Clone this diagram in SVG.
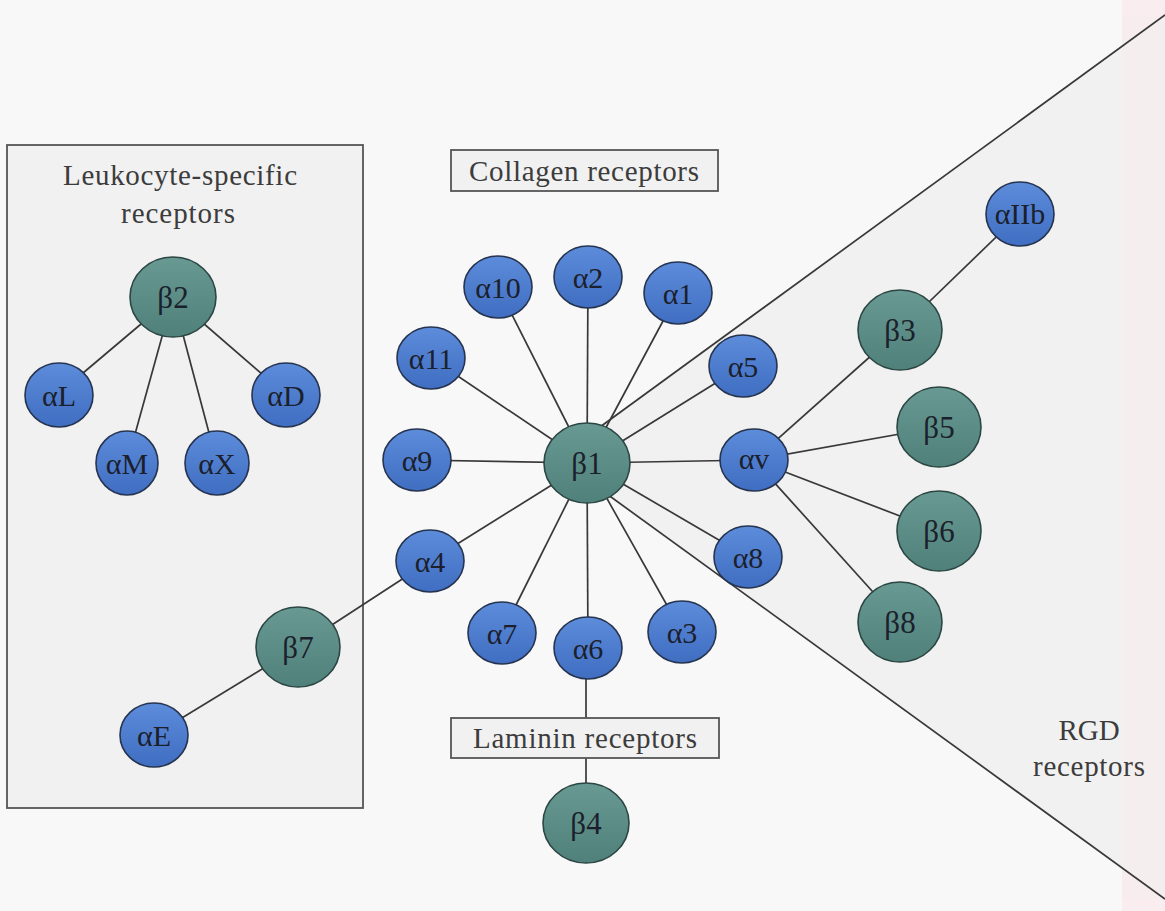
<svg xmlns="http://www.w3.org/2000/svg" width="1165" height="911" viewBox="0 0 1165 911">
<defs>
<linearGradient id="gBlue" x1="0" y1="0" x2="0" y2="1">
<stop offset="0" stop-color="#5d8cdb"/>
<stop offset="1" stop-color="#3f6ec2"/>
</linearGradient>
<linearGradient id="gGreen" x1="0" y1="0" x2="0" y2="1">
<stop offset="0" stop-color="#689a93"/>
<stop offset="1" stop-color="#4f817a"/>
</linearGradient>
<style>
.a{fill:url(#gBlue);stroke:#26344f;stroke-width:1.6}
.b{fill:url(#gGreen);stroke:#2c4643;stroke-width:1.6}
.t{font-family:"Liberation Serif","Times New Roman",serif;font-size:30px;fill:#1c1f2c;text-anchor:middle}
.bt{font-size:31px}
.lbl{font-family:"Liberation Serif","Times New Roman",serif;font-size:29px;fill:#3c3c3c;text-anchor:middle}
.box{fill:#f1f1f1;stroke:#555;stroke-width:1.8}
.e{stroke:#383838;stroke-width:1.7;fill:none}
</style>
</defs>
<rect x="0" y="0" width="1165" height="911" fill="#f8f8f8"/>
<rect x="1122" y="0" width="43" height="911" fill="#f9edf0"/>
<polygon points="600,427 1165,15 1165,899 600,489" fill="#f1f1f1"/>
<rect x="1122" y="15" width="43" height="884" fill="#f6ecee" opacity="0.7"/>

<g id="leukocyte-box">
<rect class="box" x="7" y="145" width="356" height="663"/>
<text class="lbl" x="180" y="185" textLength="234" lengthAdjust="spacing">Leukocyte-specific</text>
<text class="lbl" x="178" y="223" textLength="114" lengthAdjust="spacing">receptors</text>
</g>

<g id="connectors">
<line class="e" x1="600" y1="427" x2="1165" y2="15"/>
<line class="e" x1="600" y1="489" x2="1165" y2="899"/>
<line class="e" x1="173" y1="297" x2="57" y2="395"/>
<line class="e" x1="173" y1="297" x2="127" y2="463"/>
<line class="e" x1="173" y1="297" x2="217" y2="463"/>
<line class="e" x1="173" y1="297" x2="286" y2="395"/>
<line class="e" x1="298" y1="647" x2="154" y2="735"/>
<line class="e" x1="298" y1="647" x2="430" y2="561"/>
<line class="e" x1="587" y1="463" x2="498" y2="287"/>
<line class="e" x1="587" y1="463" x2="588" y2="277"/>
<line class="e" x1="587" y1="463" x2="678" y2="293"/>
<line class="e" x1="587" y1="463" x2="431" y2="358"/>
<line class="e" x1="587" y1="463" x2="417" y2="460"/>
<line class="e" x1="587" y1="463" x2="430" y2="561"/>
<line class="e" x1="587" y1="463" x2="502" y2="633"/>
<line class="e" x1="587" y1="463" x2="588" y2="648"/>
<line class="e" x1="587" y1="463" x2="682" y2="632"/>
<line class="e" x1="587" y1="463" x2="748" y2="557"/>
<line class="e" x1="587" y1="463" x2="754" y2="460"/>
<line class="e" x1="587" y1="463" x2="743" y2="366"/>
<line class="e" x1="754" y1="460" x2="900" y2="330"/>
<line class="e" x1="754" y1="460" x2="939" y2="427"/>
<line class="e" x1="754" y1="460" x2="939" y2="531"/>
<line class="e" x1="754" y1="460" x2="900" y2="622"/>
<line class="e" x1="900" y1="330" x2="1020" y2="214"/>
<line class="e" x1="586" y1="648" x2="586" y2="823"/>
</g>

<g id="collagen-label">
<rect class="box" x="451" y="150" width="267" height="41"/>
<text class="lbl" x="584" y="181" textLength="230" lengthAdjust="spacing">Collagen receptors</text>
</g>
<g id="laminin-label">
<rect class="box" x="451" y="718" width="268" height="40"/>
<text class="lbl" x="585" y="748" textLength="224" lengthAdjust="spacing">Laminin receptors</text>
</g>
<g id="rgd-label">
<text class="lbl" x="1089" y="740">RGD</text>
<text class="lbl" x="1089" y="776" textLength="112" lengthAdjust="spacing">receptors</text>
</g>

<g id="b2"><ellipse class="b" cx="173" cy="297" rx="43" ry="40"/><text class="t bt" x="173" y="308">β2</text></g>
<g id="aL"><ellipse class="a" cx="59" cy="395" rx="34" ry="32"/><text class="t" x="59" y="406">αL</text></g>
<g id="aD"><ellipse class="a" cx="286" cy="395" rx="34" ry="32"/><text class="t" x="286" y="406">αD</text></g>
<g id="aM"><ellipse class="a" cx="127" cy="463" rx="31" ry="32"/><text class="t" x="127" y="474">αM</text></g>
<g id="aX"><ellipse class="a" cx="217" cy="463" rx="32" ry="32"/><text class="t" x="217" y="474">αX</text></g>
<g id="b7"><ellipse class="b" cx="298" cy="647" rx="42" ry="40"/><text class="t bt" x="298" y="658">β7</text></g>
<g id="aE"><ellipse class="a" cx="154" cy="735" rx="34" ry="32"/><text class="t" x="154" y="746">αE</text></g>

<g id="b1"><ellipse class="b" cx="587" cy="463" rx="43" ry="40"/><text class="t bt" x="587" y="474">β1</text></g>
<g id="a10"><ellipse class="a" cx="498" cy="287" rx="34" ry="31"/><text class="t" x="498" y="298">α10</text></g>
<g id="a2"><ellipse class="a" cx="588" cy="277" rx="34" ry="31"/><text class="t" x="588" y="288">α2</text></g>
<g id="a1"><ellipse class="a" cx="678" cy="293" rx="34" ry="31"/><text class="t" x="678" y="304">α1</text></g>
<g id="a11"><ellipse class="a" cx="431" cy="358" rx="34" ry="31"/><text class="t" x="431" y="369">α11</text></g>
<g id="a9"><ellipse class="a" cx="417" cy="460" rx="34" ry="31"/><text class="t" x="417" y="471">α9</text></g>
<g id="a4"><ellipse class="a" cx="430" cy="561" rx="34" ry="31"/><text class="t" x="430" y="572">α4</text></g>
<g id="a7"><ellipse class="a" cx="502" cy="633" rx="34" ry="31"/><text class="t" x="502" y="644">α7</text></g>
<g id="a6"><ellipse class="a" cx="588" cy="648" rx="34" ry="31"/><text class="t" x="588" y="659">α6</text></g>
<g id="a3"><ellipse class="a" cx="682" cy="632" rx="34" ry="31"/><text class="t" x="682" y="643">α3</text></g>
<g id="a8"><ellipse class="a" cx="748" cy="557" rx="34" ry="31"/><text class="t" x="748" y="568">α8</text></g>
<g id="av"><ellipse class="a" cx="754" cy="460" rx="34" ry="31"/><text class="t" x="754" y="469">αv</text></g>
<g id="a5"><ellipse class="a" cx="743" cy="366" rx="34" ry="31"/><text class="t" x="743" y="377">α5</text></g>

<g id="b4"><ellipse class="b" cx="586" cy="823" rx="43" ry="40"/><text class="t bt" x="586" y="834">β4</text></g>
<g id="b3"><ellipse class="b" cx="900" cy="330" rx="42" ry="40"/><text class="t bt" x="900" y="341">β3</text></g>
<g id="b5"><ellipse class="b" cx="939" cy="427" rx="42" ry="40"/><text class="t bt" x="939" y="438">β5</text></g>
<g id="b6"><ellipse class="b" cx="939" cy="531" rx="42" ry="40"/><text class="t bt" x="939" y="542">β6</text></g>
<g id="b8"><ellipse class="b" cx="900" cy="622" rx="42" ry="40"/><text class="t bt" x="900" y="633">β8</text></g>
<g id="aIIb"><ellipse class="a" cx="1020" cy="214" rx="34" ry="32"/><text class="t" x="1020" y="224" font-size="28">αIIb</text></g>
</svg>
